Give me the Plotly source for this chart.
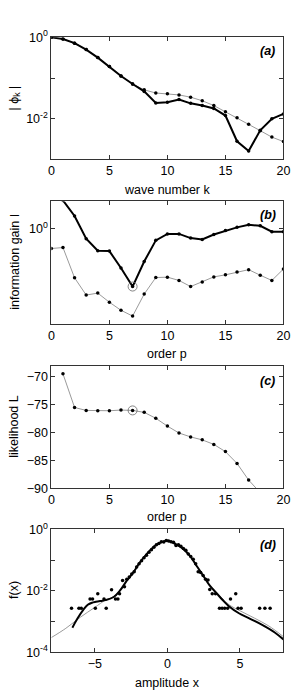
import plotly.graph_objects as go

W, H = 304, 697

# ---------------- data ----------------
k = list(range(21))
phi_thick = [1.0, 0.912, 0.72, 0.50, 0.318, 0.191, 0.1125, 0.0714, 0.047, 0.0244, 0.0253,
             0.0298, 0.0239, 0.0211, 0.0179, 0.012, 0.0028, 0.00162, 0.0052, 0.0100, 0.01315]
phi_thin = [1.0, 0.912, 0.72, 0.50, 0.318, 0.191, 0.1125, 0.0714, 0.0514, 0.0429, 0.0414,
            0.0385, 0.0339, 0.0277, 0.0211, 0.0149, 0.0106, 0.0073, 0.0051, 0.00354, 0.00275]

p = list(range(21))
gain_thick = [2.5, 1.95, 1.355, 0.796, 0.601, 0.597, 0.402, 0.261, 0.468, 0.767, 0.892,
              0.892, 0.809, 0.784, 0.879, 0.963, 1.039, 1.104, 1.079, 0.94, 0.94]
gain_thin = [0.634, 0.649, 0.320, 0.214, 0.224, 0.181, 0.150, 0.131, 0.219, 0.322, 0.325,
             0.301, 0.261, 0.290, 0.327, 0.343, 0.367, 0.387, 0.340, 0.301, 0.393]

p_lik = list(range(1, 19))
lik = [-69.53, -75.56, -76.08, -76.14, -76.14, -76.02, -76.08, -76.43, -77.49, -78.89,
       -80.12, -80.82, -81.35, -82.16, -83.45, -85.56, -88.54, -90.8]
p_best = 7

# panel (d)
x_fit = [-6.55, -6.2, -5.8, -5.49, -5.2, -4.93, -4.6, -4.26, -3.70, -3.25, -2.80, -2.35, -1.91,
         -1.46, -0.90, -0.45, 0.0, 0.45, 1.0, 1.57, 2.02, 2.47, 2.91, 3.36, 3.81, 4.26, 4.93,
         5.61, 6.5, 7.40, 8.0]
f_fit = [6.3e-4, 1.25e-3, 2.4e-3, 3.5e-3, 4.1e-3, 4.4e-3, 4.7e-3, 5.0e-3, 6.3e-3, 1.05e-2,
         2.14e-2, 3.98e-2, 8.3e-2, 0.151, 0.282, 0.380, 0.427, 0.355, 0.251, 0.135, 0.0646,
         0.0309, 0.0151, 8.7e-3, 5.0e-3, 3.1e-3, 1.86e-3, 1.29e-3, 7.9e-4, 4.4e-4, 2.6e-4]
x_ref = [-8.0, -7.0, -6.0, -5.0, -4.26, -3.70, -3.25, -2.80, -2.35, -1.91, -1.46, -0.90, -0.45,
         0.0, 0.45, 1.0, 1.57, 2.02, 2.47, 2.91, 3.36, 3.81, 4.26, 5.0, 6.0, 7.0, 8.0]
f_ref = [3.0e-4, 6.0e-4, 1.38e-3, 2.9e-3, 5.0e-3, 6.5e-3, 1.05e-2, 2.14e-2, 3.98e-2, 8.3e-2,
         0.151, 0.282, 0.380, 0.427, 0.355, 0.251, 0.135, 0.0646, 0.0309, 0.0151, 9.0e-3,
         5.5e-3, 3.5e-3, 2.24e-3, 1.29e-3, 7.1e-4, 3.2e-4]
x_hist = [-6.61, -6.10, -5.94, -5.33, -5.16, -4.97, -4.80, -4.37, -4.22, -3.85, -3.58, -3.41,
          -3.30, -3.09, -2.96,
          -2.80, -2.63, -2.46, -2.29, -2.12, -1.95, -1.78, -1.61, -1.44, -1.27, -1.10, -0.93,
          -0.76, -0.59, -0.42, -0.25, -0.08, 0.08, 0.25, 0.42, 0.59, 0.76, 0.93, 1.10, 1.27,
          1.44, 1.61, 1.78, 1.95, 2.12, 2.29, 2.46, 2.63, 2.80,
          2.92, 3.09, 3.32, 3.59, 3.77, 3.95, 4.15, 4.35, 4.71, 4.87, 5.08, 6.36, 6.72, 7.08]
f_hist = [2.7e-3, 2.7e-3, 2.7e-3, 5.4e-3, 5.4e-3, 2.7e-3, 8.1e-3, 5.4e-3, 2.7e-3, 1.08e-2,
          5.4e-3, 5.4e-3, 8.1e-3, 2.16e-2, 1.35e-2,
          0.0240, 0.0282, 0.0355, 0.0417, 0.0603, 0.0759, 0.0955, 0.120, 0.145, 0.182, 0.219,
          0.263, 0.316, 0.347, 0.398, 0.389, 0.437, 0.417, 0.398, 0.380, 0.302, 0.316, 0.282,
          0.240, 0.209, 0.158, 0.132, 0.107, 0.0759, 0.0417, 0.0398, 0.0316, 0.0240, 0.0224,
          1.1e-2, 8.1e-3, 8.1e-3, 2.7e-3, 2.7e-3, 2.7e-3, 2.7e-3, 5.4e-3, 8.1e-3, 2.7e-3,
          2.7e-3, 2.7e-3, 2.7e-3, 2.7e-3]

# ---------------- styling ----------------
FONT = "Liberation Sans, Arial, Helvetica, sans-serif"
AX = "#333333"
GRAY = "#9a9a9a"

def pyd(top, bottom):
    return [1 - bottom / H, 1 - top / H]

xdom = [50 / W, 290 / W]
panels = {
    1: pyd(29, 154),
    2: pyd(197, 322),
    3: pyd(365, 490.5),
    4: pyd(532.7, 658.3),
}

fig = go.Figure()

def thin(x, y, xa, ya):
    fig.add_trace(go.Scatter(x=x, y=y, mode="lines+markers", xaxis=xa, yaxis=ya,
                             line=dict(color=GRAY, width=1),
                             marker=dict(color="black", size=3.5), showlegend=False))

def thick(x, y, xa, ya):
    fig.add_trace(go.Scatter(x=x, y=y, mode="lines+markers", xaxis=xa, yaxis=ya,
                             line=dict(color="black", width=2),
                             marker=dict(color="black", size=3.5), showlegend=False))

# (a)
thin(k, phi_thin, "x", "y")
thick(k, phi_thick, "x", "y")
# (b)
thin(p, gain_thin, "x2", "y2")
thick(p, gain_thick, "x2", "y2")
fig.add_trace(go.Scatter(x=[p_best], y=[gain_thick[p_best]], mode="markers", xaxis="x2", yaxis="y2",
                         marker=dict(symbol="circle-open", size=9, color="#666", line=dict(width=0.8)),
                         showlegend=False))
# (c)
thin(p_lik, lik, "x3", "y3")
fig.add_trace(go.Scatter(x=[p_best], y=[lik[p_lik.index(p_best)]], mode="markers", xaxis="x3", yaxis="y3",
                         marker=dict(symbol="circle-open", size=9, color="#666", line=dict(width=0.8)),
                         showlegend=False))
# (d)
fig.add_trace(go.Scatter(x=x_ref, y=f_ref, mode="lines", xaxis="x4", yaxis="y4",
                         line=dict(color=GRAY, width=1, shape="spline"), showlegend=False))
fig.add_trace(go.Scatter(x=x_fit, y=f_fit, mode="lines", xaxis="x4", yaxis="y4",
                         line=dict(color="black", width=2, shape="spline"), showlegend=False))
fig.add_trace(go.Scatter(x=x_hist, y=f_hist, mode="markers", xaxis="x4", yaxis="y4",
                         marker=dict(color="black", size=3.5), showlegend=False))

tickfont = dict(family=FONT, size=12.5, color="black")

def xaxis(i, rng, tv, tt):
    return dict(domain=xdom, anchor="y" if i == 1 else f"y{i}", range=rng,
                tickvals=tv, ticktext=tt, ticks="inside", ticklen=4, tickcolor=AX,
                showline=True, linecolor=AX, linewidth=1, mirror="allticks",
                showgrid=False, zeroline=False, tickfont=tickfont, fixedrange=True)

def yaxis(i, rng, tv, tt, log=False, minor_vals=None):
    d = dict(domain=panels[i], anchor="x" if i == 1 else f"x{i}", range=rng,
             tickvals=tv, ticktext=tt, ticks="inside", ticklen=4, tickcolor=AX,
             showline=True, linecolor=AX, linewidth=1, mirror="allticks",
             showgrid=False, zeroline=False, tickfont=tickfont, fixedrange=True)
    if log:
        d["type"] = "log"
    if minor_vals:
        d["minor"] = dict(tickmode="array", tickvals=minor_vals, ticks="inside",
                          ticklen=4, tickcolor=AX, showgrid=False)
    return d

pt = [0, 5, 10, 15, 20]
pl = ["0", "5", "10", "15", "20"]
layout = dict(
    width=W, height=H, margin=dict(l=0, r=0, t=0, b=0),
    paper_bgcolor="white", plot_bgcolor="white",
    font=dict(family=FONT, size=12.5, color="black"),
    xaxis=xaxis(1, [0, 20], pt, pl),
    yaxis=yaxis(1, [-3, 0], [1, 0.01], ["10<sup>0</sup>", "10<sup>-2</sup>"], log=True,
                minor_vals=[0.1, 0.001]),
    xaxis2=xaxis(2, [0, 20], pt, pl),
    yaxis2=yaxis(2, [-0.959, 0.279], [1], ["10<sup>0</sup>"], log=True),
    xaxis3=xaxis(3, [0, 20], pt, pl),
    yaxis3=yaxis(3, [-90, -68.07], [-90, -85, -80, -75, -70],
                 ["\u221290", "\u221285", "\u221280", "\u221275", "\u221270"]),
    xaxis4=xaxis(4, [-8, 8], [-5, 0, 5], ["\u22125", "0", "5"]),
    yaxis4=yaxis(4, [-4, 0], [1, 0.01, 0.0001],
                 ["10<sup>0</sup>", "10<sup>-2</sup>", "10<sup>-4</sup>"], log=True,
                 minor_vals=[0.1, 0.001]),
)
fig.update_layout(**layout)

def ann(text, x, y, angle=0, bold=False):
    t = f"<b><i>{text}</i></b>" if bold else text
    fig.add_annotation(text=t, x=x / W, y=1 - y / H, xref="paper", yref="paper",
                       showarrow=False, textangle=angle, xanchor="center", yanchor="middle",
                       font=dict(family=FONT, size=12.5, color="black"))

# x titles
ann("wave number k", 170, 185)
ann("order p", 170, 353)
ann("order p", 170, 520)
ann("amplitude x", 170, 690)
# y titles
ann("| \u03d5<sub>k</sub> |", 12, 91, -90)
ann("information gain I", 12, 259, -90)
ann("likelihood L", 12, 427, -90)
ann("f(x)", 12, 595, -90)
# panel labels
ann("(a)", 274, 43, bold=True)
ann("(b)", 274, 211, bold=True)
ann("(c)", 274, 381, bold=True)
ann("(d)", 274, 549, bold=True)

fig.write_html("out.html",
               config={"displayModeBar": False, "staticPlot": True},
               post_script="document.body.style.margin='0';document.body.style.overflow='hidden';")
